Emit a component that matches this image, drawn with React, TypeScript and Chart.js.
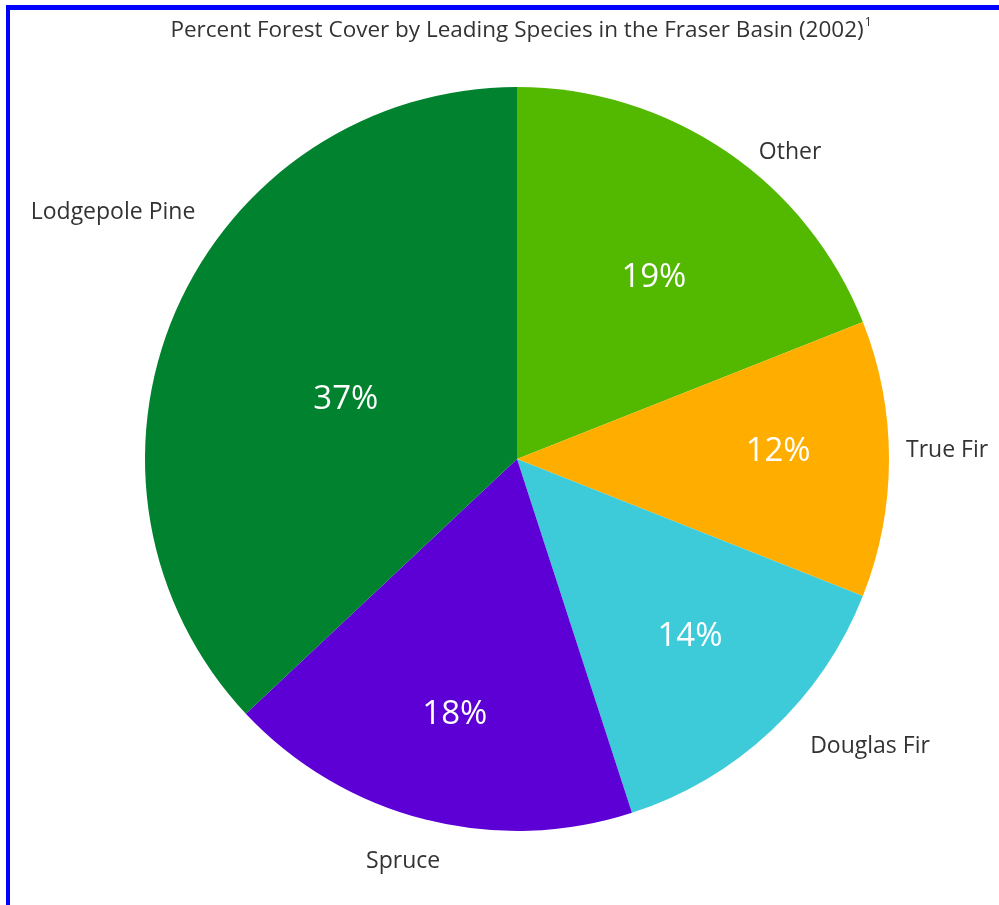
import React, { useEffect, useRef } from "react";
import { Chart, registerables } from "chart.js";

Chart.register(...registerables);

const TITLE = "Percent Forest Cover by Leading Species in the Fraser Basin (2002)";
const categories = ["Other", "True Fir", "Douglas Fir", "Spruce", "Lodgepole Pine"];
const percentValues = [19, 12, 14, 18, 37];
const sliceColors = ["#52b800", "#ffae00", "#3ecbd9", "#5c00d6", "#00822e"];

// label placement in units of pie radius, relative to pie centre
const outsideLabelOffsets: Record<string, [number, number]> = {
  "Other": [0.734, -0.825],
  "True Fir": [1.156, -0.024],
  "Douglas Fir": [0.949, 0.772],
  "Spruce": [-0.306, 1.083],
  "Lodgepole Pine": [-1.086, -0.664],
};
const insideLabelOffsets: Record<string, [number, number]> = {
  "Other": [0.368, -0.487],
  "True Fir": [0.702, -0.019],
  "Douglas Fir": [0.465, 0.478],
  "Spruce": [-0.167, 0.688],
  "Lodgepole Pine": [-0.46, -0.159],
};

const FONT = "'Open Sans', 'Noto Sans', sans-serif";

const labelPlugin = {
  id: "forestLabels",
  beforeDraw(chart: any) {
    const ctx = chart.ctx;
    ctx.save();
    ctx.fillStyle = "#ffffff";
    ctx.fillRect(0, 0, chart.width, chart.height);
    ctx.fillStyle = "#0000ff";
    ctx.fillRect(6, 5, chart.width - 6, 5);
    ctx.fillRect(6, 5, 4, chart.height - 5);
    ctx.restore();
  },
  afterDraw(chart: any) {
    const ctx = chart.ctx;
    const meta = chart.getDatasetMeta(0);
    const first = meta.data[0];
    const cx = first.x;
    const cy = first.y;
    const r = first.outerRadius;
    ctx.save();
    // title
    ctx.fillStyle = "#333333";
    ctx.textBaseline = "middle";
    ctx.font = `22.5px ${FONT}`;
    const tw = ctx.measureText(TITLE).width;
    ctx.font = `12px ${FONT}`;
    const sw = ctx.measureText("1").width;
    const total = tw + 1 + sw;
    const tx = 521 - total / 2;
    ctx.font = `22.5px ${FONT}`;
    ctx.textAlign = "left";
    ctx.fillText(TITLE, tx, 31);
    ctx.font = `12px ${FONT}`;
    ctx.fillText("1", tx + tw + 1, 23);

    ctx.textAlign = "center";
    meta.data.forEach((arc: any, i: number) => {
      const name = categories[i];
      const off = outsideLabelOffsets[name];
      ctx.fillStyle = "#333333";
      ctx.font = `23px ${FONT}`;
      ctx.fillText(name, cx + off[0] * r, cy + off[1] * r);

      const ioff = insideLabelOffsets[name];
      ctx.fillStyle = "#ffffff";
      ctx.font = `33px ${FONT}`;
      ctx.fillText(percentValues[i] + "%", cx + ioff[0] * r, cy + ioff[1] * r);
    });
    ctx.restore();
  },
};

export default function App() {
  const ref = useRef<HTMLCanvasElement>(null);
  useEffect(() => {
    if (!ref.current) return;
    const chart = new Chart(ref.current, {
      type: "pie",
      data: {
        labels: categories,
        datasets: [
          {
            data: percentValues,
            backgroundColor: sliceColors,
            borderWidth: 0,
          },
        ],
      },
      options: {
        responsive: false,
        animation: false,
        layout: { padding: { top: 87, bottom: 74, left: 100, right: 65 } },
        plugins: {
          legend: { display: false },
          tooltip: { enabled: false },
          title: { display: false },
        },
      },
      plugins: [labelPlugin],
    });
    return () => chart.destroy();
  }, []);
  return (
    <div style={{ position: "fixed", left: 0, top: 0, width: 999, height: 905, overflow: "hidden", background: "#fff" }}>
      <canvas ref={ref} width={999} height={905} style={{ display: "block", width: 999, height: 905 }} />
    </div>
  );
}
